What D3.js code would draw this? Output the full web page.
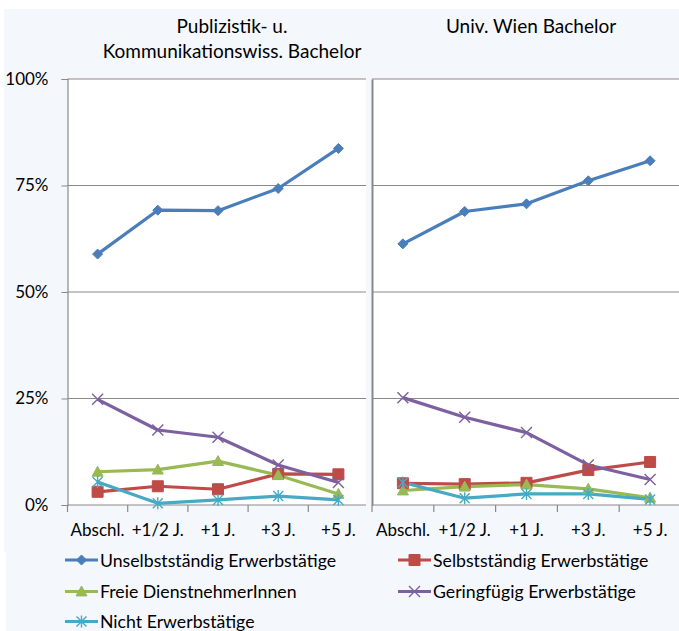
<!DOCTYPE html>
<html><head><meta charset="utf-8">
<script src="https://cdn.jsdelivr.net/npm/d3@7/dist/d3.min.js"></script>
<style>
body{margin:0;background:#fff;}
svg{display:block;font-family:Lato,"Open Sans",sans-serif;}
</style></head>
<body><svg id="c" width="679" height="631"></svg>
<script>
const categories = ["Abschl.", "+1/2 J.", "+1 J.", "+3 J.", "+5 J."];
const yTicks = [0, 25, 50, 75, 100];
const panelTitles = [["Publizistik- u.", "Kommunikationswiss. Bachelor"], ["Univ. Wien Bachelor"]];
const seriesNames = ["Unselbstständig Erwerbstätige", "Selbstständig Erwerbstätige", "Freie DienstnehmerInnen", "Geringfügig Erwerbstätige", "Nicht Erwerbstätige"];
const seriesColors = ["#4A7EBB", "#BE4B48", "#98B954", "#7D60A0", "#46AAC5"];
const seriesMarkers = ["diamond", "square", "triangle", "x", "star"];
// Publizistik- u. Kommunikationswiss. Bachelor
const pubUnselbst = [58.9, 69.2, 69.1, 74.3, 83.7];
const pubSelbst   = [3.1, 4.4, 3.7, 7.3, 7.2];
const pubFreie    = [7.8, 8.3, 10.3, 7.0, 2.6];
const pubGering   = [24.8, 17.6, 15.9, 9.4, 5.3];
const pubNicht    = [5.4, 0.4, 1.2, 2.1, 1.2];
// Univ. Wien Bachelor
const uniUnselbst = [61.3, 68.9, 70.7, 76.1, 80.8];
const uniSelbst   = [5.1, 4.9, 5.2, 8.2, 10.1];
const uniFreie    = [3.4, 4.3, 4.8, 3.8, 1.7];
const uniGering   = [25.2, 20.6, 17.0, 9.4, 6.0];
const uniNicht    = [5.3, 1.6, 2.6, 2.6, 1.3];

const panels = [
  {series:[pubUnselbst,pubSelbst,pubFreie,pubGering,pubNicht], x0:67.5, x1:368.5, plotEnd:366},
  {series:[uniUnselbst,uniSelbst,uniFreie,uniGering,uniNicht], x0:372, x1:681, plotEnd:690}
];

const svg = d3.select("#c");
const FONT = "Lato,'Open Sans',sans-serif";
// chart background
svg.append("rect").attr("x",4).attr("y",9).attr("width",675).attr("height",543).attr("fill","#F4F7FC");
svg.append("rect").attr("x",6).attr("y",552).attr("width",673).attr("height",79).attr("fill","#F4F7FC");

const y = d3.scaleLinear().domain([0,100]).range([505,79]);
const grid = "#898989";

function markerPath(type, s){
  const h = s/2;
  switch(type){
    case "diamond": return `M0,${-h}L${h},0L0,${h}L${-h},0Z`;
    case "square": return `M${-h},${-h}H${h}V${h}H${-h}Z`;
    case "triangle": return `M0,${-h}L${h},${h*0.8}L${-h},${h*0.8}Z`;
    case "x": return `M${-h},${-h}L${h},${h}M${-h},${h}L${h},${-h}`;
    case "star": return `M${-h},${-h}L${h},${h}M${-h},${h}L${h},${-h}M0,${-h*1.2}V${h*1.2}`;
  }
}
const markerSize = {diamond:10, square:11, triangle:11, x:11, star:10};
function drawMarker(g, type, color, cx, cy){
  const p = g.append("path").attr("d", markerPath(type, markerSize[type]))
    .attr("transform",`translate(${cx},${cy})`);
  if(type==="x"||type==="star") p.attr("fill","none").attr("stroke",color).attr("stroke-width",1.4);
  else p.attr("fill",color).attr("stroke",color).attr("stroke-width",1);
}

panels.forEach((pn, pi) => {
  const x = d3.scaleBand().domain(categories).range([pn.x0, pn.x1]);
  const g = svg.append("g");
  g.append("rect").attr("x",pn.x0).attr("y",79).attr("width",pn.plotEnd-pn.x0).attr("height",426).attr("fill","#fff");
  // gridlines
  g.selectAll(".gl").data(yTicks.filter(t=>t>0)).enter().append("line")
    .attr("x1",pn.x0).attr("x2",pn.plotEnd).attr("y1",d=>y(d)).attr("y2",d=>y(d))
    .attr("stroke",grid).attr("stroke-width",1.2);
  // y axis
  const ya = d3.axisLeft(y).tickValues(yTicks).tickSize(pi===0?6:0).tickFormat(d=>pi===0?d+"%":"");
  const yg = g.append("g").attr("transform",`translate(${pn.x0},0)`).call(ya);
  yg.select(".domain").attr("stroke",grid).attr("stroke-width",pi===0?1.2:2);
  yg.selectAll(".tick line").attr("stroke",grid);
  yg.selectAll("text").attr("font-size",17).attr("fill","#000").attr("font-family",FONT).attr("x",-19);
  // x axis
  const xa = d3.axisBottom(x).tickSize(0).tickFormat(d=>d);
  const xg = g.append("g").attr("transform",`translate(0,${y(0)})`).call(xa);
  xg.select(".domain").remove();
  xg.append("line").attr("x1",pn.x0).attr("x2",pn.plotEnd).attr("stroke",grid).attr("stroke-width",1.2);
  xg.selectAll(".btick").data(categories).enter().append("line").attr("class","btick")
    .attr("x1",d=>x(d)).attr("x2",d=>x(d)).attr("y1",0).attr("y2",7).attr("stroke",grid).attr("stroke-width",1.2);
  xg.selectAll(".tick text").attr("font-size",17).attr("fill","#000").attr("font-family",FONT).attr("y",0).attr("dy",31);
  // series
  const line = d3.line().x((d,i)=>x(categories[i])+x.bandwidth()/2).y(d=>y(d));
  pn.series.forEach((vals, si) => {
    g.append("path").datum(vals).attr("d",line).attr("fill","none")
      .attr("stroke",seriesColors[si]).attr("stroke-width",3.2).attr("stroke-linejoin","round");
  });
  pn.series.forEach((vals, si) => {
    vals.forEach((v,i)=>drawMarker(g, seriesMarkers[si], seriesColors[si], x(categories[i])+x.bandwidth()/2, y(v)));
  });
  // title
  const titleLines = panelTitles[pi];
  const tcx = pi===0 ? 232 : 531;
  titleLines.forEach((t, li) => {
    svg.append("text").attr("x",tcx).attr("y",33+li*25).attr("text-anchor","middle")
      .attr("font-size",19).attr("fill","#000").text(t);
  });
});

// legend
const legendPos = [[65,560],[398,560],[65,591.5],[398,591.5],[65,621.5]];
seriesNames.forEach((n, si) => {
  const [lx, ly] = legendPos[si];
  const g = svg.append("g");
  g.append("line").attr("x1",lx).attr("x2",lx+33).attr("y1",ly).attr("y2",ly).attr("stroke",seriesColors[si]).attr("stroke-width",3.2);
  drawMarker(g, seriesMarkers[si], seriesColors[si], lx+16.5, ly);
  g.append("text").attr("x",lx+35).attr("y",ly+6.5).attr("font-size",17.7).attr("fill","#000").text(n);
});
</script></body></html>
